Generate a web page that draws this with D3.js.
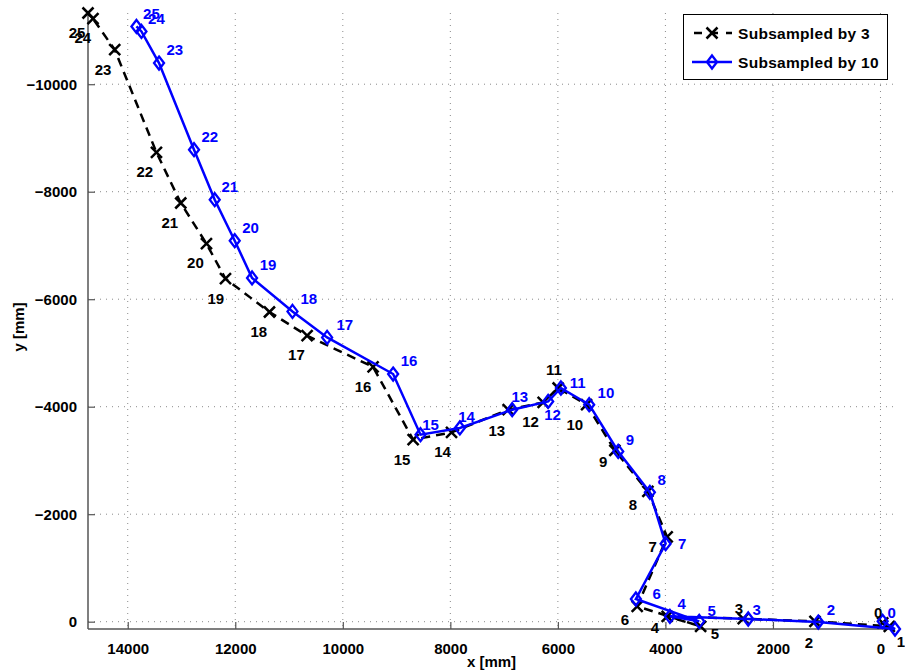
<!DOCTYPE html>
<html><head><meta charset="utf-8">
<script src="https://cdn.jsdelivr.net/npm/d3@7"></script>
<style>
body{margin:0;background:#fff}
text{font-family:"Liberation Sans",Arial,Helvetica,sans-serif;font-weight:bold}
</style>
</head><body>
<svg id="chart" width="905" height="671"></svg>
<script>
// point indices (labels)
const pointLabels = ["0","1","2","3","4","5","6","7","8","9","10","11","12","13","14","15","16","17","18","19","20","21","22","23","24","25"];

// Subsampled by 3 (x, y in mm)
const sub3X = [-41,-164,1219,2553,3967,3345,4525,3967,4326,4940,5466,5995,6274,6925,7978,8692,9437,10664,11364,12182,12536,13014,13466,14242,14646,14739];
const sub3Y = [24,87,-6,-56,-99,87,-285,-1576,-2424,-3187,-4037,-4348,-4080,-3944,-3522,-3386,-4739,-5321,-5762,-6381,-7033,-7790,-8731,-10642,-11219,-11325];
// label anchor positions (mm)
const lab3X = [41,-380,1330,2633,4195,3079,4754,4238,4605,5157,5684,6074,6508,7135,8145,8897,9622,10862,11563,12363,12741,13219,13684,14460,14837,14943];
const lab3Y = [-162,372,391,-242,106,223,-37,-1401,-2177,-2982,-3665,-4688,-3727,-3554,-3168,-3014,-4378,-4967,-5401,-6004,-6674,-7418,-8378,-10270,-10865,-10958];

// Subsampled by 10 (x, y in mm)
const sub10X = [-41,-270,1157,2460,3916,3371,4549,3996,4289,4878,5418,5944,6181,6850,7823,8555,9064,10292,10936,11688,12010,12382,12767,13418,13745,13838];
const sub10Y = [-6,136,6,-50,-99,-6,-422,-1451,-2406,-3168,-4037,-4348,-4099,-3944,-3604,-3479,-4608,-5289,-5773,-6395,-7088,-7851,-8781,-10394,-10982,-11075];
const lab10X = [-208,-900,921,2303,3699,3140,4164,3688,4071,4661,5107,5634,6099,6707,7699,8369,8767,9963,10633,11390,11717,12102,12475,13126,13466,13559];
const lab10Y = [-173,-93,-223,-236,-335,-210,-521,-1464,-2642,-3386,-4266,-4452,-3851,-4181,-3820,-3665,-4856,-5526,-6004,-6642,-7325,-8088,-9018,-10642,-11219,-11312];

const xTicks = [0,2000,4000,6000,8000,10000,12000,14000];
const yTicks = [-10000,-8000,-6000,-4000,-2000,0];
const seriesNames = ["Subsampled by 3","Subsampled by 10"];

const W = 905, H = 671;
const svg = d3.select("#chart");
const L = 88, R = 895, T = 13, B = 629;

const allX = sub3X.concat(sub10X), allY = sub3Y.concat(sub10Y);
const x = d3.scaleLinear().domain([d3.max(allX), d3.min(allX)]).range([L, R]);
const y = d3.scaleLinear().domain([d3.min(allY), d3.max(allY)]).range([T, B]);

// grid
const grid = svg.append("g");
grid.selectAll("line.gx").data(xTicks).join("line")
  .attr("x1", d => x(d)).attr("x2", d => x(d)).attr("y1", T).attr("y2", B)
  .attr("stroke", "#8a8a8a").attr("stroke-width", 1).attr("stroke-dasharray", "1,5");
grid.selectAll("line.gy").data(yTicks).join("line")
  .attr("y1", d => y(d)).attr("y2", d => y(d)).attr("x1", L).attr("x2", R)
  .attr("stroke", "#8a8a8a").attr("stroke-width", 1).attr("stroke-dasharray", "1,5");

// axes
const xAxis = d3.axisBottom(x).tickValues(xTicks).tickSize(-7).tickPadding(14).tickFormat(d => d3.format("d")(d));
const yAxis = d3.axisLeft(y).tickValues(yTicks).tickSize(-7).tickPadding(11).tickFormat(d => d < 0 ? "\u2212" + (-d) : String(d));
const gx = svg.append("g").attr("transform", `translate(0,${B})`).call(xAxis);
const gy = svg.append("g").attr("transform", `translate(${L},0)`).call(yAxis);
[gx, gy].forEach(g => {
  g.select(".domain").attr("stroke", "#555").attr("stroke-width", 1.5);
  g.selectAll(".tick line").attr("stroke", "#555").attr("stroke-width", 1.2);
  g.selectAll(".tick text").attr("fill", "#000").style("font-size", "15px")
    .style("font-family", '"Liberation Sans",Arial,sans-serif').style("font-weight", "bold");
});
gy.select(".domain").attr("d", `M0,${T}V${B}`);
gx.select(".domain").attr("d", `M${L},0H${R}`);

svg.append("text").attr("x", (L + R) / 2).attr("y", 661).attr("text-anchor", "middle")
  .attr("dominant-baseline", "central").style("font-size", "15px").text("x [mm]");
svg.append("text").attr("transform", `translate(18,${(T + B) / 2 + 6}) rotate(-90)`).attr("text-anchor", "middle")
  .attr("dominant-baseline", "central").style("font-size", "15px").text("y [mm]");

const s3 = sub3X.map((v, i) => ({x: v, y: sub3Y[i], lx: lab3X[i], ly: lab3Y[i], t: pointLabels[i]}));
const s10 = sub10X.map((v, i) => ({x: v, y: sub10Y[i], lx: lab10X[i], ly: lab10Y[i], t: pointLabels[i]}));

const line = d3.line().x(d => x(d.x)).y(d => y(d.y));

// series 1: black dashed with x markers
svg.append("path").datum(s3).attr("d", line).attr("fill", "none")
  .attr("stroke", "#000").attr("stroke-width", 2.5).attr("stroke-dasharray", "9,6");
const xm = 5.5;
function xMarker(g, cx, cy) {
  g.append("path").attr("d", `M${cx - xm},${cy - xm}L${cx + xm},${cy + xm}M${cx - xm},${cy + xm}L${cx + xm},${cy - xm}`)
    .attr("stroke", "#000").attr("stroke-width", 2.5).attr("fill", "none");
}
const m3 = svg.append("g");
s3.forEach(d => xMarker(m3, x(d.x), y(d.y)));

// series 2: blue solid with diamond markers
svg.append("path").datum(s10).attr("d", line).attr("fill", "none")
  .attr("stroke", "#0000ff").attr("stroke-width", 2.5);
function dMarker(g, cx, cy) {
  g.append("path").attr("d", `M${cx},${cy - 6.5}L${cx + 5},${cy}L${cx},${cy + 6.5}L${cx - 5},${cy}Z`)
    .attr("stroke", "#0000ff").attr("stroke-width", 2.3).attr("fill", "none");
}
const m10 = svg.append("g");
s10.forEach(d => dMarker(m10, x(d.x), y(d.y)));

// labels (those whose anchor falls beyond the figure edge are not visible, as in the original)
const inView = d => x(d.lx) < W;
svg.append("g").selectAll("text").data(s3.filter(inView)).join("text")
  .attr("x", d => x(d.lx)).attr("y", d => y(d.ly)).attr("text-anchor", "middle")
  .attr("dominant-baseline", "central").style("font-size", "15px").attr("fill", "#000").text(d => d.t);
svg.append("g").selectAll("text").data(s10.filter(inView)).join("text")
  .attr("x", d => x(d.lx)).attr("y", d => y(d.ly)).attr("text-anchor", "middle")
  .attr("dominant-baseline", "central").style("font-size", "15px").attr("fill", "#0000ff").text(d => d.t);

// legend
const lg = svg.append("g");
lg.append("rect").attr("x", 683.5).attr("y", 14.5).attr("width", 204).attr("height", 65)
  .attr("fill", "#fff").attr("stroke", "#000").attr("stroke-width", 1);
lg.append("line").attr("x1", 692).attr("x2", 732).attr("y1", 33).attr("y2", 33)
  .attr("stroke", "#000").attr("stroke-width", 2.5).attr("stroke-dasharray", "8,8").attr("stroke-dashoffset", -2);
xMarker(lg, 712, 33);
lg.append("line").attr("x1", 692).attr("x2", 732).attr("y1", 62).attr("y2", 62)
  .attr("stroke", "#0000ff").attr("stroke-width", 2.5);
dMarker(lg, 712, 62);
lg.selectAll("text.lt").data(seriesNames).join("text")
  .attr("x", 738).attr("y", (d, i) => 33 + i * 29).attr("dominant-baseline", "central")
  .style("font-size", "15.5px").style("letter-spacing", "0.3px").attr("fill", "#000").text(d => d);
</script>
</body></html>
